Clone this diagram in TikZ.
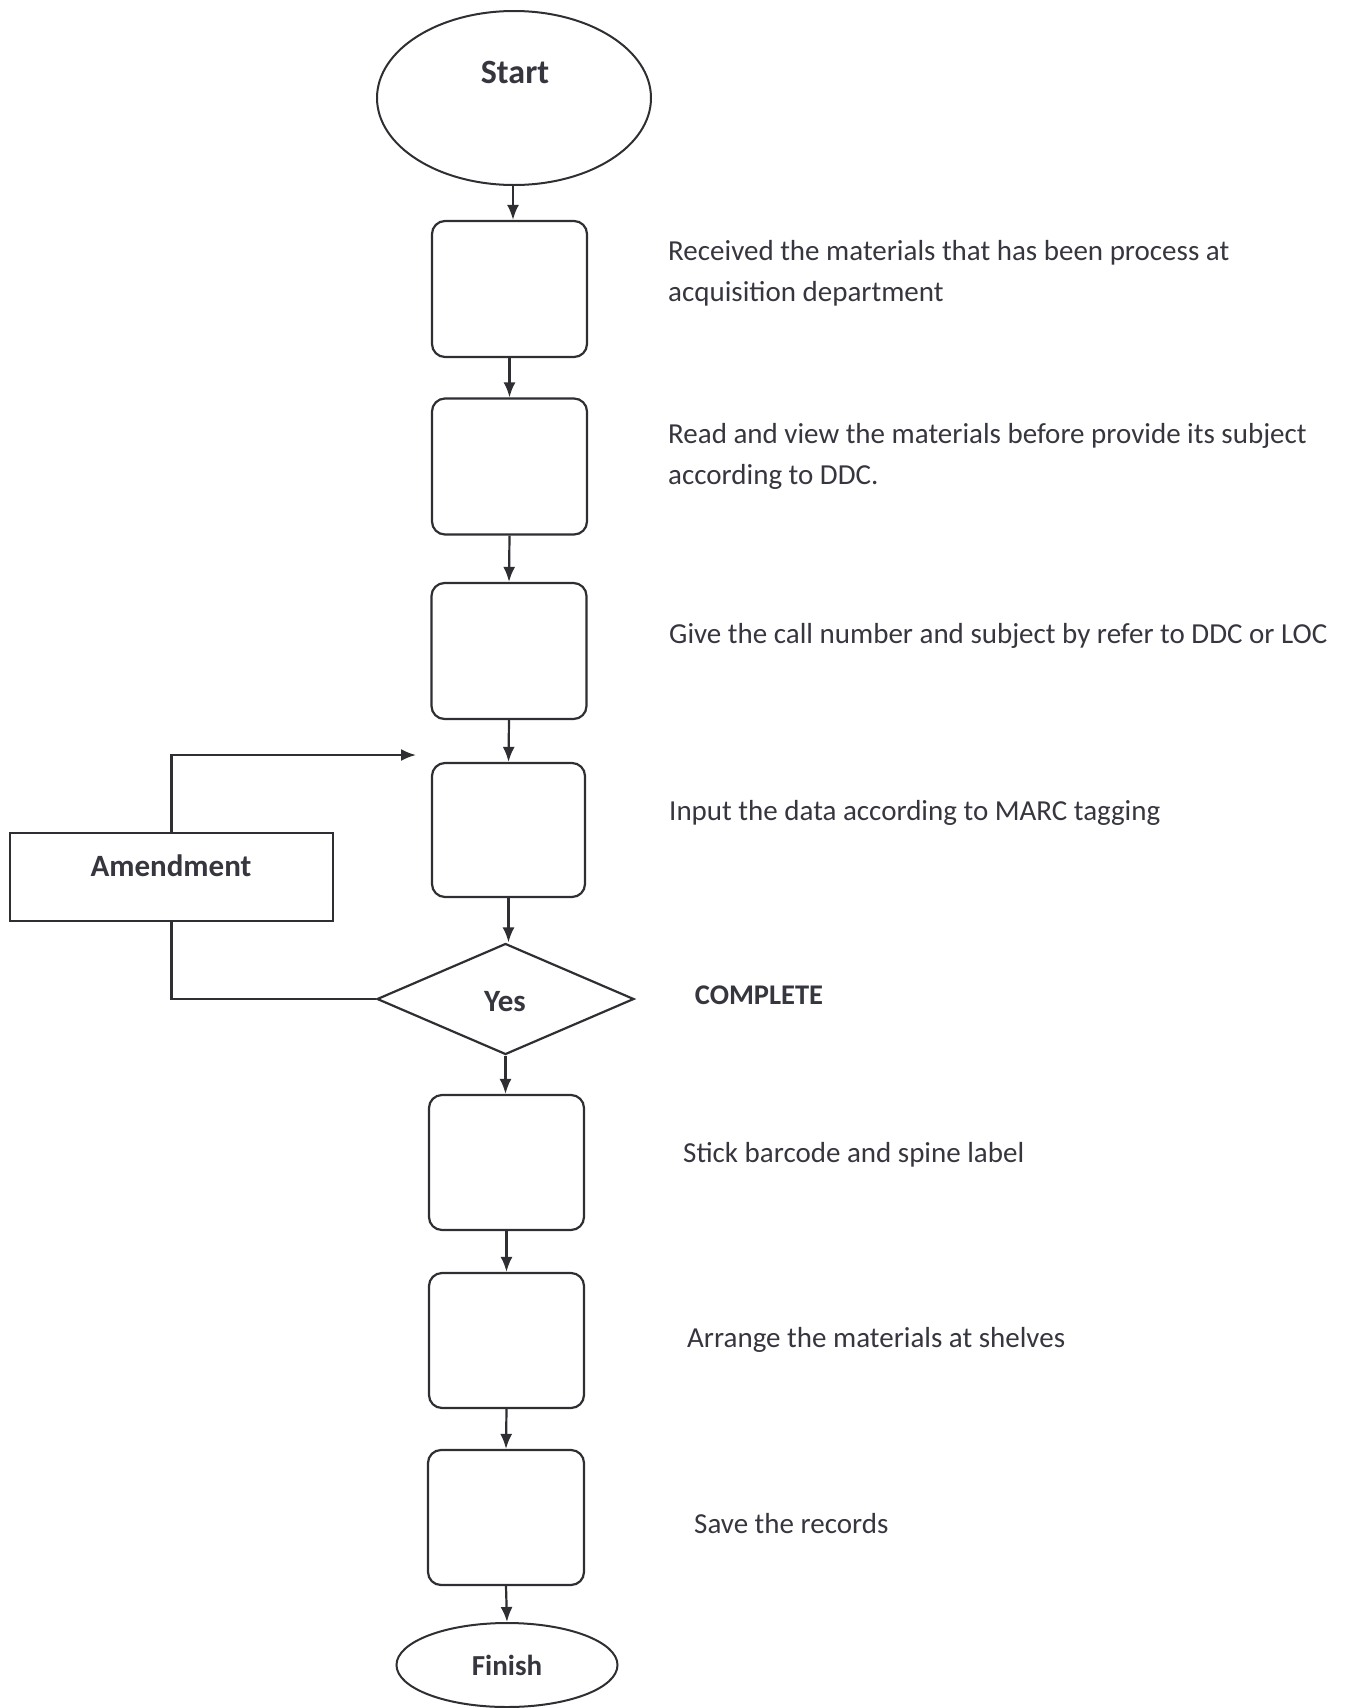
\documentclass[tikz,border=0pt]{standalone}
\usepackage{fontspec}
\setmainfont{Carlito}
\usetikzlibrary{shapes.geometric,arrows.meta}
\definecolor{ink}{HTML}{2E2E33}
\definecolor{txt}{HTML}{36363F}
\tikzset{
  stepbox/.style={draw=ink, line width=2.2pt, rectangle, rounded corners=13pt, inner sep=0pt, minimum width=155pt, minimum height=136pt},
  oval/.style={draw=ink, line width=2pt, ellipse, inner sep=0pt},
  decide/.style={draw=ink, line width=2.2pt, diamond, inner sep=0pt, aspect=2.3},
  plainbox/.style={draw=ink, line width=2.2pt, rectangle, inner sep=0pt},
  desc/.style={anchor=base west, inner sep=0pt, text=txt, font=\fontsize{29}{41}\selectfont, align=left},
  boldlbl/.style={inner sep=0pt, text=txt, font=\fontsize{31}{36}\selectfont\bfseries},
  conn/.style={draw=ink, line width=2.2pt, -{Latex[length=15pt,width=12pt]}},
  link/.style={draw=ink, line width=2.2pt}
}
\begin{document}
\begin{tikzpicture}[x=1pt,y=-1pt]
\useasboundingbox (0,0) rectangle (1351,1708);
% nodes
\node[oval, minimum width=274pt, minimum height=174pt] (start) at (514,98) {};
\node[boldlbl, font=\fontsize{34}{40}\selectfont\bfseries] (starttxt) at (515,72) {Start};
\node[stepbox] (b1) at (509.5,289) {};
\node[stepbox] (b2) at (509.5,466.5) {};
\node[stepbox] (b3) at (509,651) {};
\node[stepbox, minimum width=153pt, minimum height=134pt] (b4) at (508.5,830) {};
\node[decide, minimum width=257pt, minimum height=111pt] (dec) at (505.5,999) {};
\node[boldlbl] (yes) at (505,1002) {Yes};
\node[plainbox, minimum width=323pt, minimum height=88pt] (amend) at (171.5,877) {};
\node[boldlbl] (amendtxt) at (171,866) {Amendment};
\node[stepbox, minimum height=135pt] (b5) at (506.5,1162.5) {};
\node[stepbox, minimum height=135pt] (b6) at (506.5,1340.5) {};
\node[stepbox, minimum width=156pt, minimum height=135pt] (b7) at (506,1517.5) {};
\node[oval, minimum width=221pt, minimum height=84pt, text=txt, font=\fontsize{29}{34}\selectfont\bfseries] (finish) at (507,1665) {Finish};
% descriptions
\node[desc] (d1) at (668,301) {Received the materials that has been process at\\acquisition department};
\node[desc] (d2) at (668,484) {Read and view the materials before provide its subject\\according to DDC.};
\node[desc] (d3) at (669,643) {Give the call number and subject by refer to DDC or LOC};
\node[desc] (d4) at (669,820) {Input the data according to MARC tagging};
\node[boldlbl, font=\fontsize{28.5}{32}\selectfont\bfseries] (comp) at (759,995) {COMPLETE};
\node[desc] (d5) at (683,1162) {Stick barcode and spine label};
\node[desc] (d6) at (687,1347) {Arrange the materials at shelves};
\node[desc] (d7) at (694,1533) {Save the records};
% connectors
\draw[conn] (start.south -| 513,0) -- (b1.north -| 513,0);
\draw[conn] (b1.south) -- (b2.north);
\draw[conn] (b2.south) -- (b3.north);
\draw[conn] (b3.south) -- (b4.north);
\draw[conn] (b4.south) -- (b4.south |- dec.north);
\draw[conn] (dec.south) -- (dec.south |- b5.north);
\draw[conn] (b5.south) -- (b6.north);
\draw[conn] (b6.south) -- (b7.north);
\draw[conn] (b7.south) -- (finish.north);
% feedback loop
\coordinate (fbend) at (416,755);
\draw[link] (dec.west) -- (dec.west -| amend.south) -- (amend.south);
\draw[conn] (amend.north) |- (fbend);
\end{tikzpicture}
\end{document}
